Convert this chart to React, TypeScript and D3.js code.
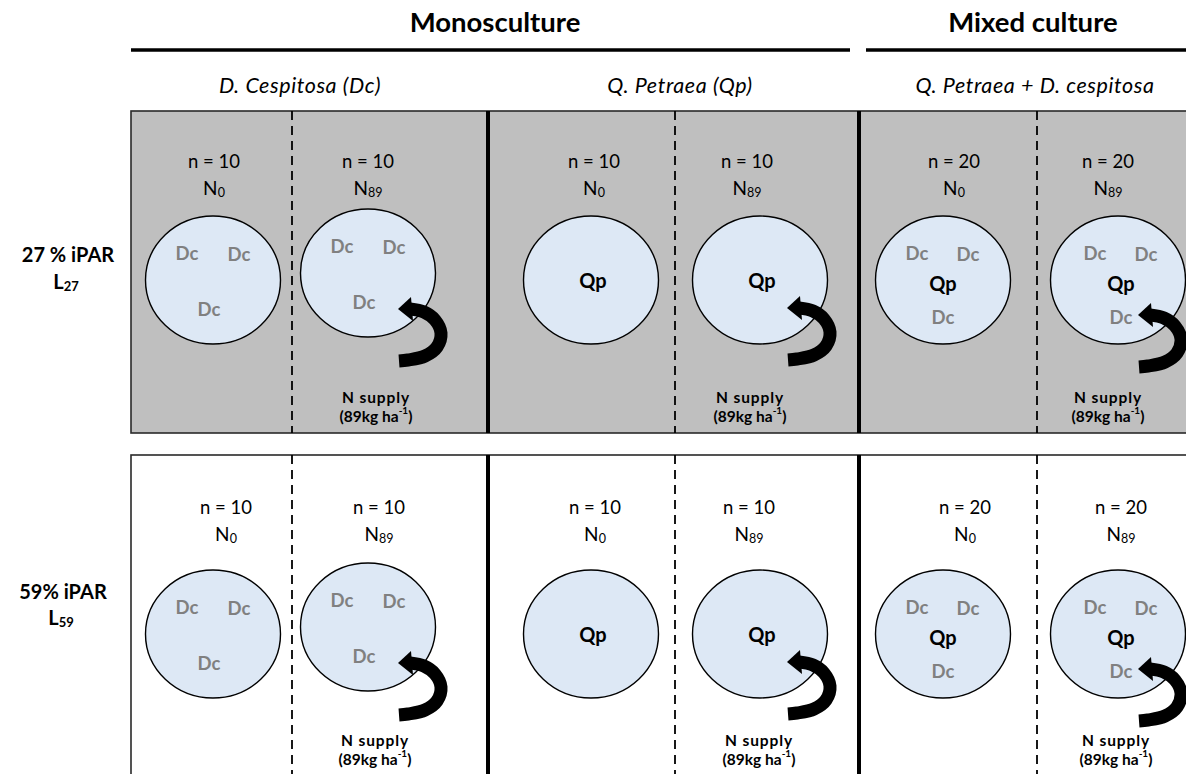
import * as d3 from "d3";

// design groups / treatments
const groups = ["Monosculture", "Mixed culture"];
const treatments = ["D. Cespitosa (Dc)", "Q. Petraea (Qp)", "Q. Petraea + D. cespitosa"];
const lightLabels = ["27 % iPAR", "59% iPAR"];
const lightCodes = ["27", "59"];
const sampleSizes = [10, 10, 10, 10, 20, 20];
const nitrogenCodes = ["0", "89", "0", "89", "0", "89"];
const plantings = ["Dc", "Dc", "Qp", "Qp", "Qp+Dc", "Qp+Dc"];
const supplyRate = "89";

const W = 1186;
const H = 774;
const FONT = "Lato, 'Open Sans', sans-serif";

// layout
const colEdges = [131, 292, 488, 675, 859, 1037, 1210];
const rowTop = [111, 455];
const rowBottom = [433, 800];
const rowFill = ["#bfbfbf", "#ffffff"];
const circleX = [213, 368, 591, 760, 943, 1118];
const circleDy = [0, -7, 0, 0, 0, 0];
const circleY = [280, 634];
const labelX = [
  [214, 368, 594, 747, 954, 1108],
  [226, 379, 595, 749, 965, 1121],
];
const labelY = [161, 507];
const arrowTip = [null, [30, 36], null, [27, 28], null, [20, 35]];
const supplyX = [
  [376, 750, 1108],
  [375, 759, 1116],
];
const supplyY = [397, 740];

const dcMono = [[-26, -27], [26, -26], [-4, 29]];
const dcMix = [[-26, -27], [25, -26], [0, 37]];

const arrowBody = d3.line<[number, number]>().curve(d3.curveCatmullRom);

function Arrow({ x, y }: { x: number; y: number }) {
  const pts: [number, number][] = [[12, 0], [26, 3], [37, 11], [43, 24], [39, 38], [27, 47], [10, 51], [1, 52]];
  const body = arrowBody(pts.map(([a, b]) => [x + a, y + b]));
  const head = d3.path();
  head.moveTo(x, y);
  head.lineTo(x + 13, y - 12);
  head.lineTo(x + 15, y + 12);
  head.closePath();
  return (
    <g>
      <path d={body ?? ""} fill="none" stroke="#000" strokeWidth={13} strokeLinecap="butt" />
      <path d={head.toString()} fill="#000" />
    </g>
  );
}

export default function App() {
  return (
    <svg width={W} height={H} style={{ position: "absolute", left: 0, top: 0, background: "#fff" }} fontFamily={FONT}>
      {/* header */}
      <text x={495} y={21} textAnchor="middle" dominantBaseline="central" fontSize={27.5} fontWeight={700}>{groups[0]}</text>
      <text x={1033} y={21} textAnchor="middle" dominantBaseline="central" fontSize={27.5} fontWeight={700}>{groups[1]}</text>
      <line x1={131} x2={850} y1={50} y2={50} stroke="#000" strokeWidth={3.5} />
      <line x1={866} x2={W} y1={50} y2={50} stroke="#000" strokeWidth={3.5} />
      {treatments.map((t, i) => (
        <text key={t} x={[300, 680, 1035][i]} y={85} textAnchor="middle" dominantBaseline="central" fontSize={21.5} fontStyle="italic" letterSpacing={0.6}>{t}</text>
      ))}

      {lightLabels.map((lab, r) => (
        <g key={lab}>
          <rect x={colEdges[0]} y={rowTop[r]} width={colEdges[6] - colEdges[0]} height={rowBottom[r] - rowTop[r]}
            fill={rowFill[r]} stroke="#2a2a2a" strokeWidth={1.6} />
          {[1, 3, 5].map(i => (
            <line key={i} x1={colEdges[i]} x2={colEdges[i]} y1={rowTop[r]} y2={rowBottom[r]} stroke="#000" strokeWidth={1.8} strokeDasharray="9,6" />
          ))}
          {[2, 4].map(i => (
            <line key={i} x1={colEdges[i]} x2={colEdges[i]} y1={rowTop[r]} y2={rowBottom[r]} stroke="#000" strokeWidth={4} />
          ))}
          <text x={r === 0 ? 68 : 63} y={r === 0 ? 254 : 591} textAnchor="middle" dominantBaseline="central" fontSize={20} fontWeight={700}>{lab}</text>
          <text x={r === 0 ? 66 : 61} y={r === 0 ? 281 : 617} textAnchor="middle" dominantBaseline="central" fontSize={20} fontWeight={700}>
            L<tspan fontSize={13} dy={5}>{lightCodes[r]}</tspan>
          </text>

          {sampleSizes.map((n, c) => {
            const cx = circleX[c];
            const cy = circleY[r] + circleDy[c];
            const shift = c === 5 ? 3 : 0;
            const tip = arrowTip[c];
            return (
              <g key={c}>
                <text x={labelX[r][c]} y={labelY[r]} textAnchor="middle" dominantBaseline="central" fontSize={18.5}>{`n = ${n}`}</text>
                <text x={labelX[r][c]} y={labelY[r] + 26} textAnchor="middle" dominantBaseline="central" fontSize={19}>
                  N<tspan fontSize={12.5} dy={5}>{nitrogenCodes[c]}</tspan>
                </text>
                <ellipse cx={cx} cy={cy} rx={67.5} ry={64} fill="#dde8f5" stroke="#000" strokeWidth={1.4} />
                {plantings[c] === "Dc" && dcMono.map(([dx, dy], k) => (
                  <text key={k} x={cx + dx} y={cy + dy} textAnchor="middle" dominantBaseline="central" fontSize={18.5} fontWeight={700} fill="#808080">Dc</text>
                ))}
                {plantings[c] === "Qp" && (
                  <text x={cx + 2} y={cy} textAnchor="middle" dominantBaseline="central" fontSize={20} fontWeight={700}>Qp</text>
                )}
                {plantings[c] === "Qp+Dc" && (
                  <g>
                    {dcMix.map(([dx, dy], k) => (
                      <text key={k} x={cx + dx + shift} y={cy + dy} textAnchor="middle" dominantBaseline="central" fontSize={18.5} fontWeight={700} fill="#808080">Dc</text>
                    ))}
                    <text x={cx + shift} y={cy + 3} textAnchor="middle" dominantBaseline="central" fontSize={20} fontWeight={700}>Qp</text>
                  </g>
                )}
                {tip && <Arrow x={cx + tip[0]} y={cy + tip[1]} />}
                {nitrogenCodes[c] !== "0" && (
                  <g>
                    <text x={supplyX[r][(c - 1) / 2]} y={supplyY[r]} textAnchor="middle" dominantBaseline="central" fontSize={15.5} fontWeight={700} letterSpacing={0.9}>N supply</text>
                    <text x={supplyX[r][(c - 1) / 2]} y={supplyY[r] + 19} textAnchor="middle" dominantBaseline="central" fontSize={15.5} fontWeight={700}>
                      {`(${supplyRate}kg ha`}<tspan fontSize={10} dy={-6}>-1</tspan><tspan dy={6}>)</tspan>
                    </text>
                  </g>
                )}
              </g>
            );
          })}
        </g>
      ))}
    </svg>
  );
}
